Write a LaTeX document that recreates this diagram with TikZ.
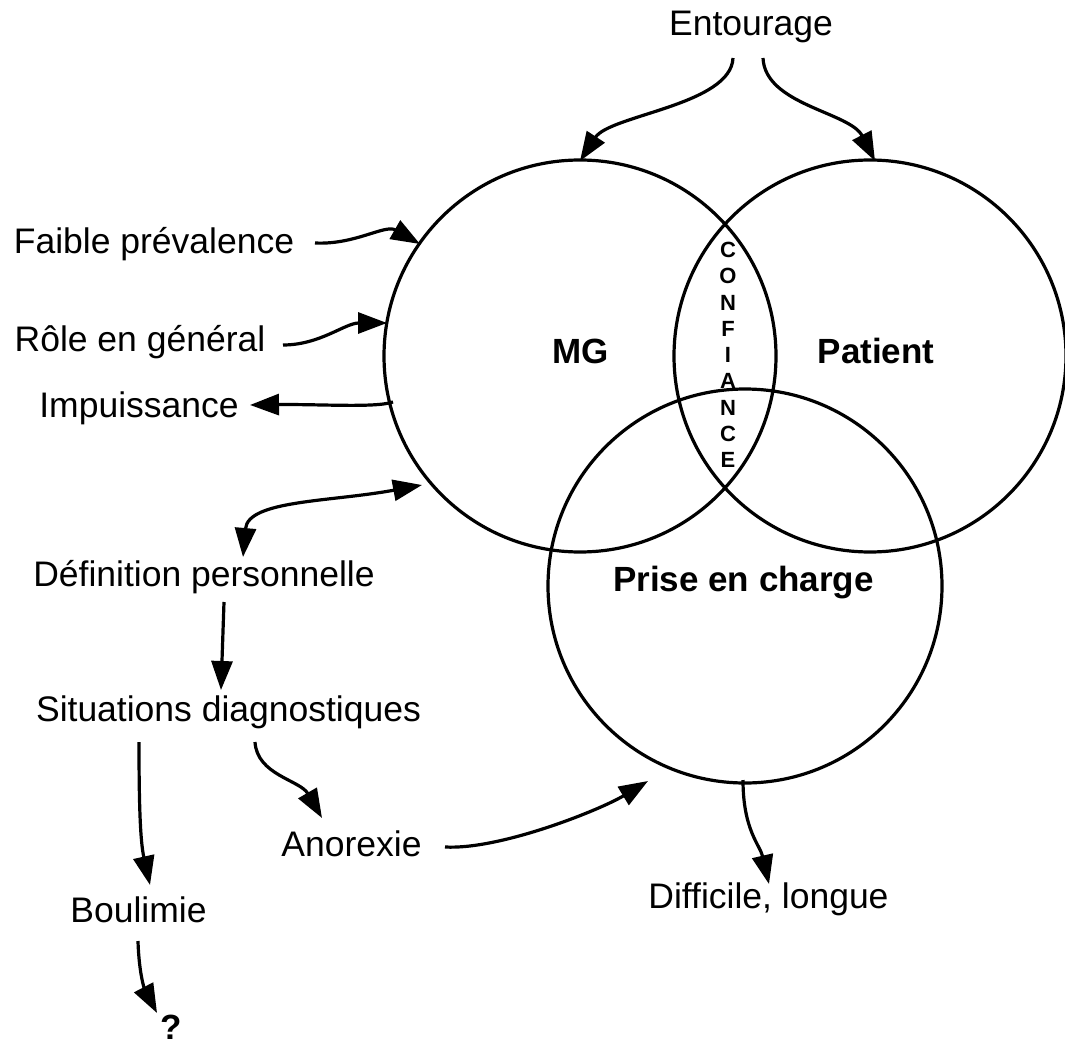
\documentclass[tikz,border=0pt]{standalone}
\usepackage{fontspec}
\setmainfont{Liberation Sans}
\usetikzlibrary{arrows.meta}
\begin{document}
\begin{tikzpicture}[x=1pt,y=-1pt,
  ring/.style={circle, draw, line width=3.2pt, minimum size=392pt, inner sep=0pt},
  lbl/.style={font=\fontsize{35.5}{40}\selectfont, inner sep=0pt, anchor=base},
  blbl/.style={font=\fontsize{35}{40}\selectfont\bfseries, inner sep=0pt, anchor=base},
  conf/.style={font=\fontsize{22}{24}\selectfont\bfseries, inner sep=0pt, anchor=center},
  arr/.style={line width=3.2pt, -{Triangle[length=29pt,width=21pt]}},
  darr/.style={line width=3.2pt, {Triangle[length=29pt,width=21pt]}-{Triangle[length=29pt,width=21pt]}}]
\useasboundingbox (0,0) rectangle (1065,1046);

% circles
\node[ring] (mg) at (580,356) {};
\node[ring] (pat) at (870,356) {};
\node[ring, minimum size=394pt] (pec) at (745,586) {};

% circle labels
\node[blbl] (tmg) at (580.5,363) {MG};
\node[blbl] (tpat) at (876,363) {Patient};
\node[blbl] (tpec) at (743.5,591) {Prise en charge};

% CONFIANCE
\foreach \l [count=\i from 0] in {C,O,N,F,I,A,N,C,E}
  \node[conf] (c\i) at (728,250+26.25*\i) {\l};

% text labels
\node[lbl] (ent) at (751,36) {Entourage};
\node[lbl] (fai) at (154,253) {Faible prévalence};
\node[lbl] (role) at (140,351) {Rôle en général};
\node[lbl] (imp) at (139,417) {Impuissance};
\node[lbl] (def) at (204,586) {Définition personnelle};
\node[lbl] (sit) at (228.5,721) {Situations diagnostiques};
\node[lbl] (ano) at (351.5,856) {Anorexie};
\node[lbl] (bou) at (138.5,922) {Boulimie};
\node[blbl] (q) at (171,1039) {?};
\node[lbl] (dif) at (768.5,908) {Difficile, longue};

% connector end points
\coordinate (e1) at (733,58);
\coordinate (e2) at (763,58);
\coordinate (fa1) at (315,243);
\coordinate (fa2) at (420,244);
\coordinate (ro1) at (283,345);
\coordinate (ro2) at (387,323);
\coordinate (im1) at (393,402);
\coordinate (im2) at (250,405);
\coordinate (d1) at (243,557);
\coordinate (d2) at (422,485);
\coordinate (ds1) at (224,602);
\coordinate (ds2) at (221,690);
\coordinate (sb1) at (139,742);
\coordinate (sb2) at (150,885);
\coordinate (sa1) at (255,742);
\coordinate (sa2) at (322,818);
\coordinate (bq1) at (138,941);
\coordinate (bq2) at (157,1013);
\coordinate (ap1) at (445,847);
\coordinate (ap2) at (648,781);
\coordinate (pd1) at (743,780);
\coordinate (pd2) at (769,884);
\coordinate (mgtop) at (580,161);
\coordinate (pattop) at (875,161);

% connectors
\draw[arr] (e1) .. controls (731,105) and (610,115) .. (mgtop);
\draw[arr] (e2) .. controls (765,105) and (850,112) .. (pattop);
\draw[arr] (fa1) .. controls (355,245) and (385,224) .. (fa2);
\draw[arr] (ro1) .. controls (320,345) and (345,323) .. (ro2);
\draw[arr] (im1) .. controls (375,408) and (320,404) .. (im2);
\draw[darr] (d1) .. controls (248,500) and (330,502) .. (d2);
\draw[arr] (ds1) -- (ds2);
\draw[arr] (sb1) .. controls (139,800) and (140,840) .. (sb2);
\draw[arr] (sa1) .. controls (257,775) and (300,780) .. (sa2);
\draw[arr] (bq1) .. controls (139,975) and (145,990) .. (bq2);
\draw[arr] (ap1) .. controls (500,850) and (600,810) .. (ap2);
\draw[arr] (pd1) .. controls (743,830) and (760,845) .. (pd2);
\end{tikzpicture}
\end{document}
